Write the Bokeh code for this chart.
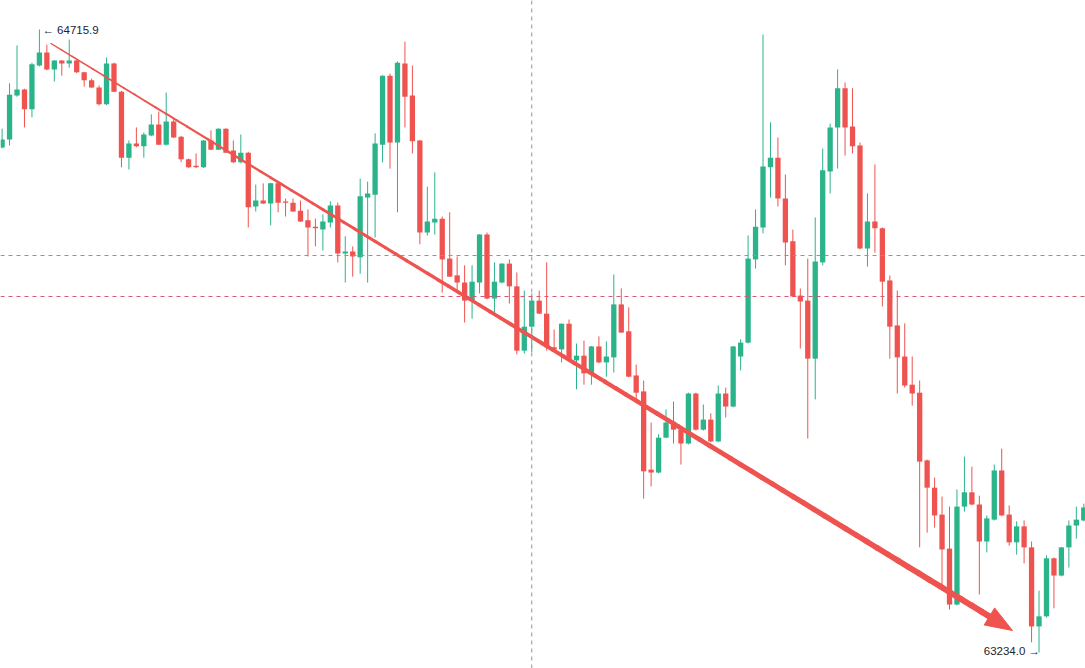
import numpy as np
from bokeh.plotting import figure
from bokeh.models import Range1d, Span, ColumnDataSource
from bokeh.embed import file_html
from bokeh.resources import INLINE
from bokeh.core.properties import value

# ---------------- data ----------------
opens = [64435, 64454, 64559, 64573, 64526, 64630, 64661, 64621, 64642, 64635,
         64642, 64614, 64595, 64578, 64538, 64635, 64568, 64411, 64445, 64438,
         64464, 64490, 64442, 64497, 64461, 64407, 64392, 64388, 64452, 64430,
         64480, 64428, 64400, 64423, 64295, 64309, 64302, 64350, 64307, 64304,
         64285, 64262, 64247, 64240, 64257, 64297, 64183, 64188, 64174, 64316,
         64323, 64442, 64606, 64447, 64635, 64559, 64452, 64233, 64257, 64266,
         64171, 64131, 64114, 64071, 64114, 64228, 64076, 64114, 64159, 64105,
         63952, 64009, 64071, 64040, 63960, 63955, 64016, 63929, 63940, 63898,
         63962, 63924, 63936, 64062, 63998, 63893, 63855, 63669, 63662, 63745,
         63783, 63764, 63731, 63850, 63764, 63788, 63736, 63850, 63819, 63938,
         63971, 64169, 64245, 64388, 64411, 64314, 64212, 64083, 64071, 63933,
         64162, 64378, 64483, 64576, 64485, 64440, 64195, 64259, 64243, 64119,
         64012, 63938, 63871, 63852, 63691, 63626, 63562, 63481, 63348, 63581,
         63615, 63586, 63498, 63550, 63667, 63562, 63496, 63534, 63484, 63296,
         63320, 63458, 63417, 63484, 63536, 63548]
highs = [64480, 64588, 64678, 64575, 64637, 64715.9, 64680, 64643, 64643, 64692,
         64645, 64615, 64599, 64583, 64649, 64637, 64570, 64452, 64483, 64471,
         64514, 64521, 64566, 64504, 64463, 64409, 64421, 64453, 64476, 64481,
         64481, 64452, 64466, 64425, 64347, 64350, 64351, 64351, 64314, 64314,
         64309, 64288, 64266, 64276, 64307, 64304, 64224, 64200, 64361, 64354,
         64469, 64607, 64611, 64640, 64687, 64630, 64453, 64342, 64376, 64271,
         64281, 64176, 64155, 64155, 64229, 64233, 64162, 64160, 64169, 64138,
         64095, 64088, 64095, 64162, 64002, 64017, 64026, 63969, 63976, 63963,
         63986, 63974, 64133, 64100, 64055, 63919, 63881, 63781, 63753, 63812,
         63831, 63766, 63852, 63852, 63824, 63803, 63869, 63864, 63963, 63979,
         64226, 64288, 64704, 64495, 64459, 64371, 64240, 64100, 64171, 64269,
         64433, 64492, 64621, 64590, 64576, 64447, 64326, 64395, 64245, 64131,
         64095, 64017, 63938, 63881, 63693, 63650, 63605, 63581, 63622, 63700,
         63676, 63607, 63560, 63681, 63719, 63584, 63546, 63548, 63498, 63381,
         63465, 63460, 63485, 63548, 63581, 63588]
lows = [64433, 64440, 64556, 64483, 64507, 64628, 64619, 64592, 64606, 64625,
        64612, 64580, 64577, 64535, 64536, 64567, 64388, 64383, 64436, 64411,
        64462, 64441, 64440, 64458, 64400, 64386, 64386, 64386, 64429, 64429,
        64422, 64398, 64398, 64245, 64283, 64301, 64250, 64281, 64271, 64282,
        64258, 64176, 64200, 64190, 64245, 64162, 64114, 64128, 64135, 64114,
        64221, 64400, 64385, 64281, 64483, 64421, 64205, 64226, 64228, 64090,
        64127, 64090, 64019, 64028, 64088, 64074, 64040, 64112, 64064, 63943,
        63945, 63948, 64039, 63952, 63953, 63924, 63929, 63860, 63871, 63871,
        63922, 63890, 63900, 63994, 63889, 63829, 63600, 63629, 63660, 63744,
        63731, 63681, 63729, 63762, 63762, 63734, 63734, 63793, 63817, 63905,
        63969, 64147, 64231, 64316, 64295, 64155, 64079, 63957, 63743, 63836,
        64155, 64326, 64385, 64416, 64421, 64193, 64152, 64185, 64057, 63933,
        63850, 63864, 63821, 63484, 63519, 63531, 63381, 63336, 63346, 63569,
        63584, 63372, 63472, 63548, 63558, 63488, 63467, 63446, 63258, 63234.0,
        63317, 63339, 63415, 63436, 63505, 63546]
closes = [64454, 64561, 64573, 64526, 64633, 64661, 64621, 64642, 64635, 64642,
          64614, 64595, 64578, 64538, 64635, 64568, 64411, 64445, 64438, 64466,
          64490, 64442, 64497, 64459, 64407, 64388, 64388, 64452, 64430, 64480,
          64423, 64400, 64423, 64293, 64309, 64302, 64350, 64304, 64304, 64283,
          64259, 64245, 64243, 64259, 64297, 64183, 64188, 64176, 64319, 64326,
          64445, 64606, 64447, 64637, 64556, 64450, 64233, 64259, 64266, 64169,
          64128, 64114, 64071, 64116, 64228, 64076, 64116, 64159, 64105, 63952,
          64009, 64071, 64040, 63960, 63955, 64016, 63931, 63940, 63898, 63962,
          63924, 63938, 64062, 63995, 63890, 63852, 63665, 63662, 63745, 63781,
          63764, 63731, 63850, 63764, 63788, 63736, 63850, 63819, 63962, 63971,
          64171, 64247, 64390, 64411, 64314, 64209, 64081, 64069, 63933, 64164,
          64381, 64483, 64576, 64483, 64438, 64195, 64259, 64243, 64116, 64009,
          63936, 63869, 63850, 63688, 63626, 63560, 63479, 63348, 63581, 63615,
          63586, 63498, 63553, 63667, 63560, 63496, 63534, 63484, 63296, 63320,
          63458, 63417, 63484, 63536, 63550, 63579]

high_label = "64715.9"
low_label = "63234.0"
crosshair_index = 71
crosshair_price = 64178.3
last_price_line = 64080.8
trend_start = (6.555, 64682.6)
trend_tip = (135.44, 63286.3)

# ---------------- styling ----------------
GREEN = "#2bb38a"
RED = "#ef5350"
W, H = 1085, 668
X0, X1 = -0.2145, 145.23
Y0, Y1 = 63195.9, 64784.9

n = len(opens)
idx = np.arange(n)
o = np.array(opens, float); c = np.array(closes, float)
hi = np.array(highs, float); lo = np.array(lows, float)
up = c >= o
colors = [GREEN if u else RED for u in up]
top = np.maximum(o, c); bot = np.minimum(o, c)
min_h = (Y1 - Y0) / H * 1.0
bot = np.where(top - bot < min_h, top - min_h, bot)

src = ColumnDataSource(dict(x=idx, hi=hi, lo=lo, top=top, bot=bot, color=colors))

p = figure(width=W, height=H, x_range=Range1d(X0, X1), y_range=Range1d(Y0, Y1),
           output_backend="svg", toolbar_location=None,
           x_axis_type=None, y_axis_type=None,
           min_border=0, min_border_left=0, min_border_right=0,
           min_border_top=0, min_border_bottom=0)
p.grid.visible = False
p.outline_line_color = None
p.background_fill_color = "white"
p.border_fill_color = "white"

# dashed lines
p.add_layout(Span(location=crosshair_price, dimension="width", line_color="#8f939c",
                  line_dash="4 4", line_width=1))
p.add_layout(Span(location=last_price_line, dimension="width", line_color="#de5272",
                  line_dash="4 4", line_width=1))
p.add_layout(Span(location=crosshair_index, dimension="height", line_color="#8f939c",
                  line_dash="4 4", line_width=1))

# candles
p.segment(x0="x", y0="lo", x1="x", y1="hi", color="color", line_width=1, source=src)
p.vbar(x="x", width=0.71, top="top", bottom="bot", fill_color="color",
       line_color=None, source=src)

# trend arrow (tapered line + head), computed in screen space
def to_px(x, y):
    return ((x - X0) / (X1 - X0) * W, (Y1 - y) / (Y1 - Y0) * H)

def to_data(sx, sy):
    return (X0 + sx / W * (X1 - X0), Y1 - sy / H * (Y1 - Y0))

sx0, sy0 = to_px(*trend_start)
sx1, sy1 = to_px(*trend_tip)
d = np.array([sx1 - sx0, sy1 - sy0]); L = np.hypot(*d); u = d / L
nvec = np.array([-u[1], u[0]])
head_len, head_half = 27.0, 10.0
base = np.array([sx1, sy1]) - head_len * u
shaft_end = base + 3 * u
N = 90
ts = np.linspace(0, 1, N + 1)
pts = np.array([sx0, sy0])[None, :] + ts[:, None] * (shaft_end - np.array([sx0, sy0]))[None, :]
widths = 1.4 + 4.8 * (ts[:-1] + ts[1:]) / 2
seg_x0, seg_y0 = to_data(pts[:-1, 0], pts[:-1, 1])
seg_x1, seg_y1 = to_data(pts[1:, 0], pts[1:, 1])
p.segment(x0=seg_x0, y0=seg_y0, x1=seg_x1, y1=seg_y1, line_color=RED,
          line_width=widths, line_cap="round")
c1 = base + head_half * nvec; c2 = base - head_half * nvec
hx, hy = to_data(np.array([sx1, c1[0], c2[0]]), np.array([sy1, c1[1], c2[1]]))
p.patch(x=list(hx), y=list(hy), fill_color=RED, line_color=RED, line_width=1)

# extreme labels
hi_i = int(np.argmax(hi)); lo_i = int(np.argmin(lo))
p.text(x=[hi_i], y=[hi[hi_i]], text=["\u2190 " + high_label], x_offset=3,
       text_align="left", text_baseline="middle", text_font=value("Liberation Sans"),
       text_font_size="11.5px", text_color="#1e222d")
p.text(x=[lo_i], y=[lo[lo_i]], text=[low_label + " \u2192"], x_offset=1,
       y_offset=-1, text_align="right", text_baseline="middle",
       text_font=value("Liberation Sans"), text_font_size="11.5px", text_color="#1e222d")

open("out.html", "w").write(file_html(p, INLINE))
